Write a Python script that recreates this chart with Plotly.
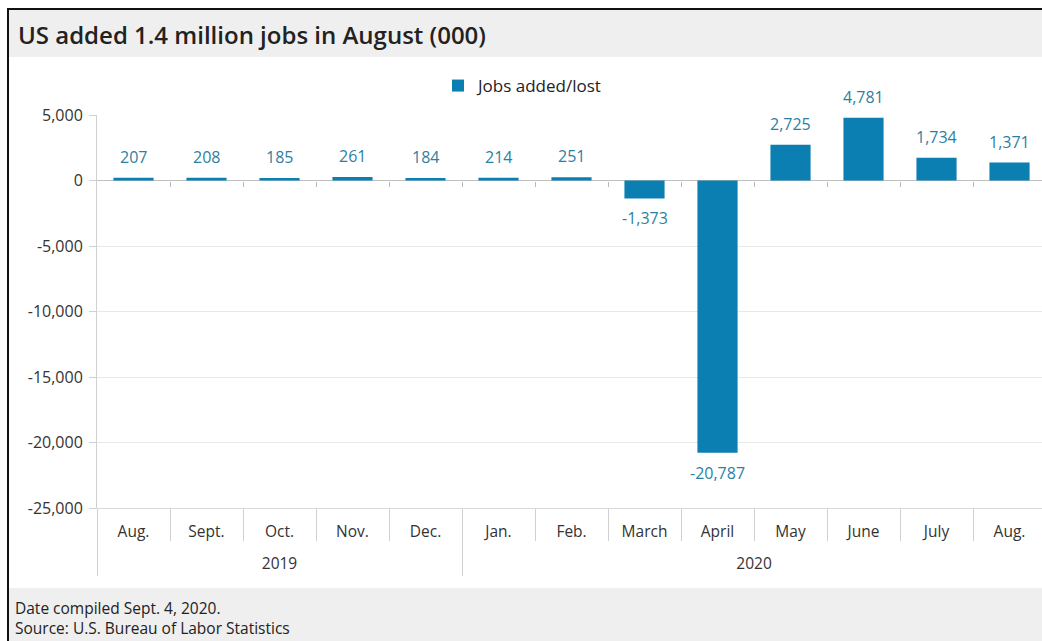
import plotly.graph_objects as go

# Monthly change in US nonfarm payrolls (thousands)
months = ["Aug.", "Sept.", "Oct.", "Nov.", "Dec.", "Jan.", "Feb.",
          "March", "April", "May", "June", "July", "Aug."]
years = ["2019", "2020"]
year_span = [5, 8]  # number of months in each year group
jobs = [207, 208, 185, 261, 184, 214, 251, -1373, -20787, 2725, 4781, 1734, 1371]

y_ticks = [5000, 0, -5000, -10000, -15000, -20000, -25000]

BAR = "#0b7fb1"
LABEL = "#2d7fa2"
TEXT = "#333333"
BAND = "#efefef"
AXIS = "#d0d0d0"
FONT = "Open Sans, Roboto, sans-serif"

W, H = 1042, 641
L, T, B = 97, 115, 133
PW, PH = W - L, H - T - B


def px_x(x):
    return (x - L) / PW


def px_y(y):
    return (H - B - y) / PH


n = len(jobs)
idx = list(range(n))
x_range = [-0.5, n - 1 + 0.445]
bounds = [i + 0.5 for i in range(n - 1)]

# year group centres and the edges between groups
year_edges = [-0.5]
for s in year_span:
    year_edges.append(year_edges[-1] + s)
year_mid = [(a + b) / 2 for a, b in zip(year_edges[:-1], year_edges[1:])]

fig = go.Figure()
fig.add_trace(go.Bar(
    x=idx, y=jobs, name="Jobs added/lost",
    marker=dict(color=BAR, line=dict(width=0)), width=0.55,
))
# invisible helpers so the overlay axes are drawn
for ax in ("x2", "x3"):
    fig.add_trace(go.Scatter(x=[0], y=[0], xaxis=ax, mode="markers",
                             marker=dict(opacity=0), showlegend=False,
                             hoverinfo="skip"))

for i, v in enumerate(jobs):
    fig.add_annotation(
        x=i, y=v, xref="x", yref="y", text=f"{v:,}", showarrow=False,
        yanchor="bottom" if v >= 0 else "top", yshift=8 if v >= 0 else -7,
        font=dict(family=FONT, size=16, color=LABEL),
    )

# title band, footer band and frame
fig.add_shape(type="rect", xref="paper", yref="paper", layer="below",
              x0=px_x(8), x1=px_x(W + 5), y0=px_y(57), y1=px_y(10),
              fillcolor=BAND, line=dict(width=0))
fig.add_shape(type="rect", xref="paper", yref="paper", layer="below",
              x0=px_x(8), x1=px_x(W + 5), y0=px_y(H + 5), y1=px_y(588),
              fillcolor=BAND, line=dict(width=0))
fig.add_shape(type="line", xref="paper", yref="paper",
              x0=px_x(8), x1=px_x(8), y0=px_y(9), y1=px_y(H + 5),
              line=dict(color="#111111", width=2))
fig.add_shape(type="line", xref="paper", yref="paper",
              x0=px_x(7), x1=px_x(W + 5), y0=px_y(9), y1=px_y(9),
              line=dict(color="#111111", width=2))

fig.add_annotation(xref="paper", yref="paper", x=px_x(16), y=px_y(34),
                   xanchor="left", yanchor="middle", showarrow=False,
                   text="US added 1.4 million jobs in August (000)",
                   font=dict(family=FONT, size=24, color="#222222", weight=600))
fig.add_annotation(xref="paper", yref="paper", x=px_x(13), y=px_y(595),
                   xanchor="left", yanchor="top", showarrow=False, align="left",
                   text="Date compiled Sept. 4, 2020.<br>Source: U.S. Bureau of Labor Statistics",
                   font=dict(family=FONT, size=15.5, color="#222222"))

fig.update_layout(
    width=W, height=H,
    margin=dict(l=L, r=0, t=T, b=B, pad=0),
    paper_bgcolor="white", plot_bgcolor="white",
    font=dict(family=FONT, size=16, color=TEXT),
    showlegend=True,
    legend=dict(orientation="h", x=px_x(438), y=px_y(86), xanchor="left",
                yanchor="middle", font=dict(size=17, color="#222222"),
                bgcolor="rgba(0,0,0,0)", itemwidth=30),
    # month labels, with separators between months
    xaxis=dict(
        range=x_range, tickmode="array", tickvals=idx, ticktext=months,
        ticks="", ticklabelstandoff=9,
        minor=dict(tickmode="array", tickvals=bounds, ticks="outside",
                   ticklen=32, tickcolor=AXIS, showgrid=False),
        showline=True, linecolor="#d9d9d9", linewidth=1,
        tickfont=dict(size=15.5, color=TEXT), showgrid=False, zeroline=False,
    ),
    # year labels, with dividers between years
    xaxis2=dict(
        overlaying="x", anchor="free", position=0,
        range=x_range, showgrid=False, showline=False, zeroline=False,
        tickmode="array", tickvals=year_mid, ticktext=years,
        ticks="", ticklabelstandoff=44,
        minor=dict(tickmode="array", tickvals=year_edges[:-1], ticks="outside",
                   ticklen=67, tickcolor=AXIS, showgrid=False),
        tickfont=dict(size=15.5, color=TEXT),
    ),
    # short ticks along the zero line
    xaxis3=dict(
        overlaying="x", anchor="free", position=25000 / 30000,
        range=x_range, showgrid=False, showline=False, zeroline=False,
        tickmode="array", tickvals=bounds,
        ticks="outside", ticklen=5, tickcolor="#b8b8b8",
        showticklabels=False,
    ),
    yaxis=dict(
        range=[-25000, 5000], tickmode="array", tickvals=y_ticks,
        ticktext=[f"{v:,}" for v in y_ticks],
        showline=True, linecolor=AXIS, linewidth=1,
        ticks="outside", ticklen=7, tickcolor=AXIS,
        ticklabelstandoff=3,
        gridcolor="#e8e8e8", zeroline=True, zerolinecolor="#c0c0c0",
        zerolinewidth=1, tickfont=dict(size=16, color=TEXT),
    ),
)

fig.write_html("out.html")
